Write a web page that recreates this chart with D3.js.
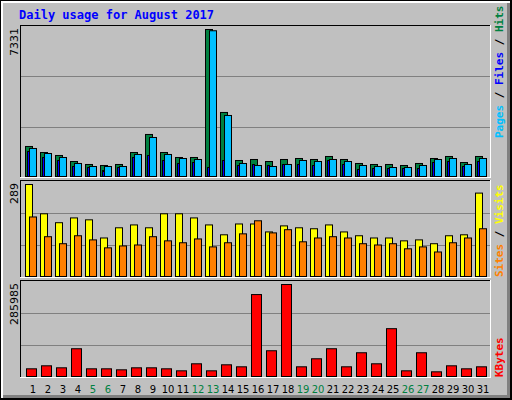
<!DOCTYPE html><html><head><meta charset="utf-8">
<script src="https://cdn.jsdelivr.net/npm/d3@7"></script>
<style>body{margin:0;background:#fff}svg{display:block}</style></head><body>
<script>
const days=d3.range(1,32);
const weekend=[5,6,12,13,19,20,26,27];
const hits=[1497,1197,1048,748,599,549,599,1197,2096,1197,948,948,7331,3193,798,848,748,848,898,848,998,848,649,599,599,549,649,898,998,698,998];
const files=[1397,1147,948,649,499,499,499,1098,1946,1098,898,848,7268,3043,649,549,499,599,798,748,848,748,549,499,449,449,549,848,898,599,898];
const pages=[1247,948,798,499,449,299,449,948,1048,798,649,698,449,798,549,599,549,599,599,549,798,599,349,399,399,399,399,698,748,499,748];
const visits=[289,197,169,184,178,121,153,162,153,197,197,184,162,131,165,165,140,159,153,150,162,140,128,121,121,112,115,103,128,131,262];
const sites=[187,125,103,128,115,90,96,99,125,112,106,118,93,106,134,175,137,147,109,121,125,121,103,99,103,87,93,77,106,121,150];
const kbytes=[23910,33267,27029,86287,23910,23910,20792,27029,27029,23910,17673,39504,17673,36386,30148,254702,80049,285985,30148,55099,86287,30148,73812,39504,148663,17673,73812,14554,33267,23910,30148];

const svg=d3.select("body").append("svg").attr("width",512).attr("height",400);
svg.append("rect").attr("width",512).attr("height",400).attr("fill","#000");
svg.append("rect").attr("x",1).attr("y",1).attr("width",509).attr("height",397).attr("fill","#fff");
svg.append("rect").attr("x",3).attr("y",3).attr("width",507).attr("height",395).attr("fill","#808080");
svg.append("rect").attr("x",3).attr("y",3).attr("width",504).attr("height",392).attr("fill","#c0c0c0");
svg.append("text").attr("x",19).attr("y",19).text("Daily usage for August 2017")
 .attr("font-family","DejaVu Sans Mono").attr("font-weight","bold").attr("font-size",12).attr("fill","#0000ff");

const x=d3.scaleBand().domain(days).range([20,485]).paddingInner(0);
const xb=d=>20+15*(d-1);

function panel(top,bottom,max,maxLabel){
  svg.append("rect").attr("x",20).attr("y",top).attr("width",471).attr("height",bottom-top).attr("fill","#fff");
  svg.append("rect").attr("x",20).attr("y",top).attr("width",470).attr("height",bottom-top-1).attr("fill","#000");
  svg.append("rect").attr("x",21).attr("y",top+1).attr("width",469).attr("height",bottom-top-2).attr("fill","#c0c0c0");
  const h=bottom-top;
  [1,2].forEach(k=>{const gy=Math.round(bottom-h*k/3);
    svg.append("line").attr("x1",21).attr("x2",490).attr("y1",gy+0.5).attr("y2",gy+0.5).attr("stroke","#808080");});
  svg.append("text").attr("transform",`translate(18,${top+3}) rotate(-90)`).attr("text-anchor","end")
   .attr("font-family","DejaVu Sans").attr("font-size",11).attr("fill","#000").text(maxLabel);
}
function bars(data,y,dx,w,color){
  svg.append("g").selectAll("rect").data(data).join("rect")
   .attr("x",(d,i)=>xb(i+1)+dx+0.5).attr("y",d=>y(d)+0.5).attr("width",w).attr("height",d=>y(0)-y(d))
   .attr("fill",color).attr("stroke","#000");
}
panel(25,178,7331,"7331");
const y1=d3.scaleLinear().domain([0,7331]).range([176,29]);
bars(hits,y1,5,7,"#008040");
bars(files,y1,9,7,"#00c0ff");
bars(pages,y1,7,2,"#0000ff");

panel(180,278,289,"289");
const y2=d3.scaleLinear().domain([0,289]).range([276,184]);
bars(visits,y2,5,7,"#ffff00");
bars(sites,y2,9,7,"#ff8000");

panel(280,378,285985,"285985");
const y3=d3.scaleLinear().domain([0,285985]).range([376,284]);
bars(kbytes,y3,6,10,"#ff0000");

svg.append("g").selectAll("text").data(days).join("text")
 .attr("x",d=>xb(d)+13).attr("y",393).attr("text-anchor","middle")
 .attr("font-family","DejaVu Sans").attr("font-size",10)
 .attr("fill",d=>weekend.includes(d)?"#008040":"#000").text(d=>d);

function rlabel(yb,parts){
  const t=svg.append("text").attr("transform",`translate(503,${yb}) rotate(-90)`)
   .attr("font-family","DejaVu Sans Mono").attr("font-size",11).attr("font-weight","bold");
  parts.forEach(p=>t.append("tspan").attr("fill",p[1]).text(p[0]));
}
rlabel(138,[["Pages","#00c0ff"],[" / ","#000"],["Files","#0000ff"],[" / ","#000"],["Hits","#008040"]]);
rlabel(277,[["Sites","#ff8000"],[" / ","#000"],["Visits","#ffff00"]]);
rlabel(377,[["KBytes","#ff0000"]]);
</script></body></html>
